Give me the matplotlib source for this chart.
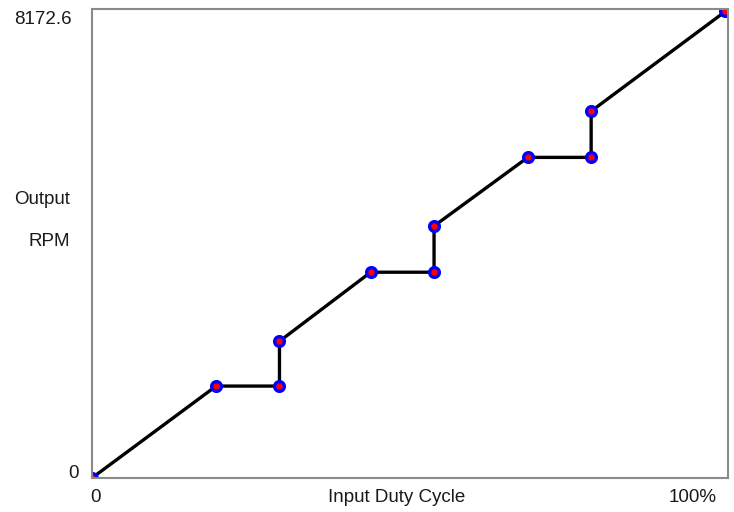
import numpy as np
import matplotlib
matplotlib.use('agg')
import matplotlib.pyplot as plt

plt.rcParams['font.family'] = ['Liberation Sans', 'DejaVu Sans']

# Input duty cycle (%) and output RPM with skip bands
duty = [0, 19.6, 29.6, 29.6, 44.0, 54.0, 54.0, 68.8, 78.8, 78.8, 100]
rpm = [0, 1610, 1610, 2395, 3604, 3604, 4413, 5615, 5615, 6424, 8172.6]
rpm_max = 8172.6
y_labels = ['0', '8172.6']
x_labels = ['0', 'Input Duty Cycle', '100%']

fig = plt.figure(figsize=(7.34, 5.12), dpi=100)
ax = fig.add_axes([0.1253, 0.0664, 0.8665, 0.916])

ax.plot(duty, rpm, color='black', lw=2.4, zorder=2)
ax.plot(duty, rpm, ls='none', marker='o', ms=7, mfc='red', mec='blue',
        mew=2.4, zorder=3)

ax.set_xlim(0, 100.4)
ax.set_ylim(0, rpm_max * 1.005)
ax.set_xticks([])
ax.set_yticks([])
for s in ax.spines.values():
    s.set_color('#8a8a8a')
    s.set_linewidth(1.5)
    s.set_zorder(4)

fs = 13.5
col = '#1a1a1a'
fig.text(72 / 734, 1 - 19 / 512, y_labels[1], ha='right', va='center', fontsize=fs, color=col)
fig.text(79 / 734, 1 - 474 / 512, y_labels[0], ha='right', va='center', fontsize=fs, color=col)
fig.text(70 / 734, 1 - 199 / 512, 'Output', ha='right', va='center', fontsize=fs, color=col)
fig.text(70 / 734, 1 - 241 / 512, 'RPM', ha='right', va='center', fontsize=fs, color=col)
fig.text(96 / 734, 1 - 497 / 512, x_labels[0], ha='center', va='center', fontsize=fs, color=col)
fig.text(397 / 734, 1 - 498 / 512, x_labels[1], ha='center', va='center', fontsize=fs, color=col)
fig.text(693 / 734, 1 - 498 / 512, x_labels[2], ha='center', va='center', fontsize=fs, color=col)

plt.savefig('out.png', dpi=100)
